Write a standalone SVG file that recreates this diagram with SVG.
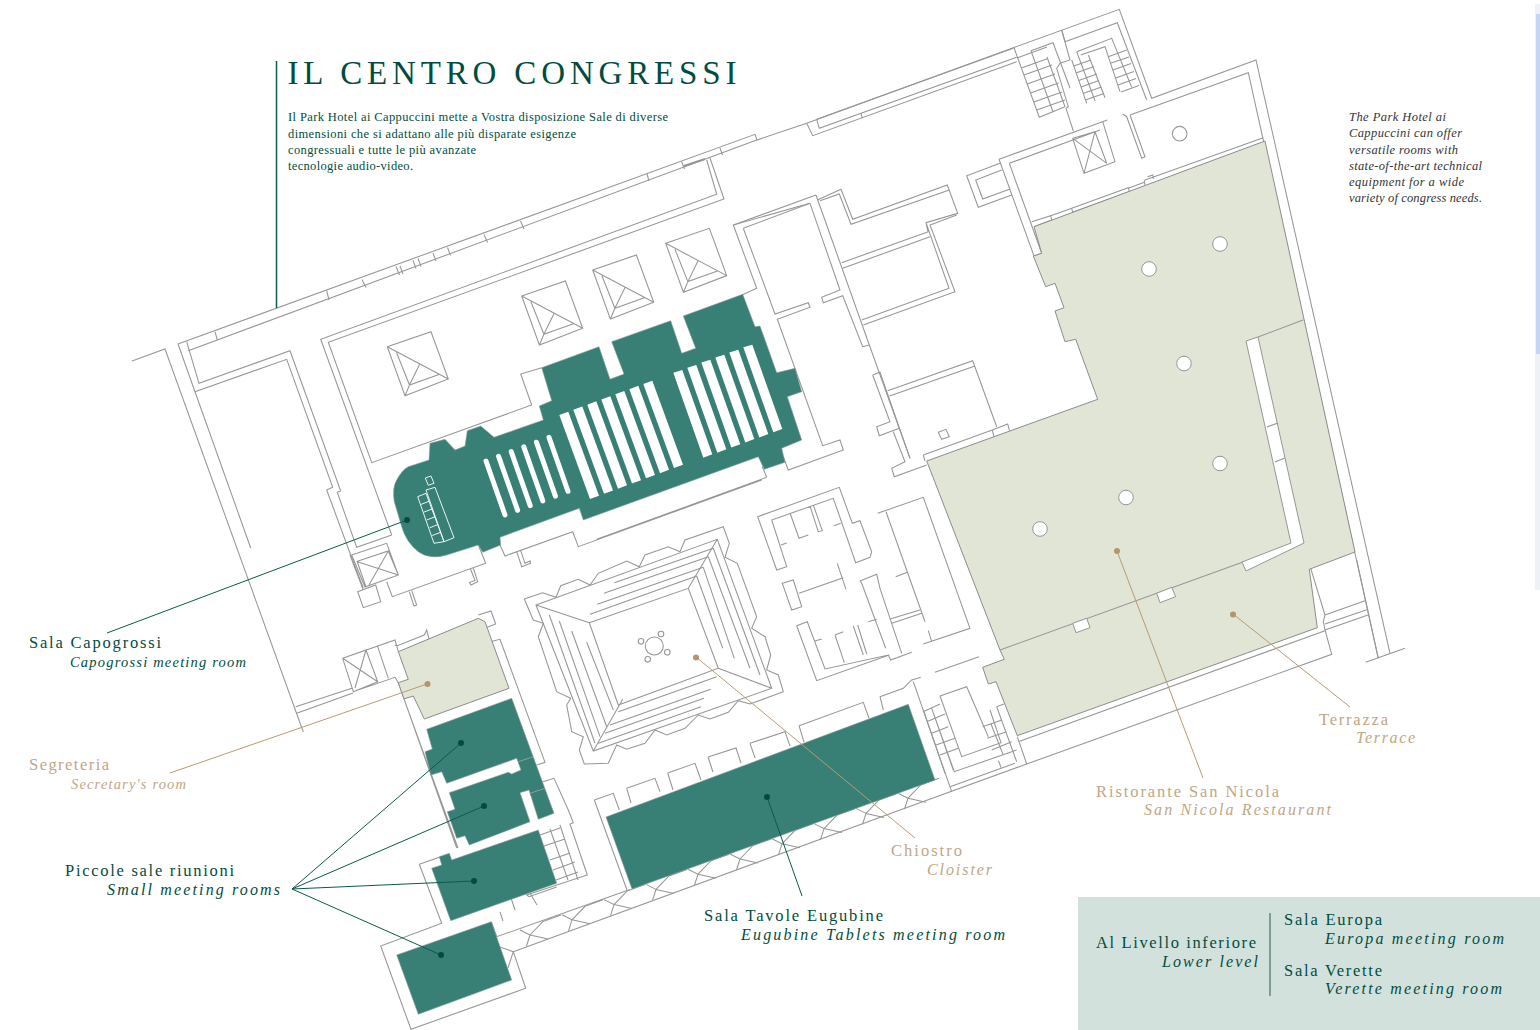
<svg xmlns="http://www.w3.org/2000/svg" xmlns:xlink="http://www.w3.org/1999/xlink" width="1540" height="1030" viewBox="0 0 1540 1030">
<style>
text{font-family:"Liberation Serif","Times New Roman",serif}
.w{fill:none;stroke:#969696;stroke-width:1.050}
.g{fill:#387f75;stroke:#8f9d99;stroke-width:.6}
.b{fill:#e1e5d6;stroke:#8c8c8c;stroke-width:1}
.h{fill:#fff;stroke:#969696;stroke-width:1}
.d{fill:#004d3f}.t{fill:#bfa684}
.dl{fill:none;stroke:#0b5a4b;stroke-width:1}.tl{fill:none;stroke:#b89b73;stroke-width:1}
.m{font-size:16.500px}.i{font-size:16px;font-style:italic}.s{font-size:14.500px;font-style:italic}
</style>
<defs>
<g id="sky" class="w"><path d="M387.3 346.7L431 331.7L448.3 379L405 395.7ZM387.3 346.7L448.3 379M396.5 352.5L409.5 385L439 374.5M405 395.7L409.5 385L420 363.5"/></g>
<path id="cob" class="w" d="M-10-5L0 0L-3.500 11M0 0L18 4M0 0L13-13.500L31-20"/>
<path id="bar" fill="#fff" d="M559.300 415L568.300 411.700L599 495.700L590 499Z"/>
<path id="bar2" fill="#fff" d="M673.300 372.700L682.300 370L712.300 454.300L703.300 457.700Z"/>
<path id="sl" fill="none" stroke="#fff" stroke-width="5" stroke-linecap="round" d="M486 461L505 515"/>
</defs>

<rect id="scroll-track" x="1535" y="4" width="5" height="586" fill="#eef1f6"/>
<rect id="scroll-thumb" x="1536" y="14" width="4" height="340" fill="#c6d5f3"/>
<rect id="lower-panel" x="1078" y="897" width="462" height="133" fill="#d3e1dd"/>

<g id="plan-walls" class="w">
<path d="M132 361L165 349L303.300 732"/>
<path d="M178 344L755 134.300L757 140L806.700 123.300L1013.300 47.700L1119.300 9.300L1151.700 98.300L1256 60L1390 653.300"/>
<path d="M188.300 350.700L756.700 140M178 344L195 391.700L250.700 548"/>
<path d="M186.700 341.700L199 383.300L290 350.700L340.700 491L337.300 492.300L356.700 547.300L391.700 535"/>
<path d="M195 391.700L286.700 359.300L332.700 487.300L326.700 490L350.700 555L363.300 588"/>
<path d="M215 331.700L217.300 340M326.700 290.700L329 300M362 279.500L366 287.500M396 266.500L399.500 275M400 266L403 274M413 260.500L416 268.500M418 258.500L421 266.500M433 253L436 261M447.500 247.500L450.500 255.500M484 234.500L487.500 242.500M520.500 221L524 229M646.700 173L649 181M681.700 161.700L684.500 169M720 148L722.500 155"/>
<path stroke-width="2" d="M684 166L705 159"/>
<path d="M706.700 160L716.700 194.300L320.700 339.300L391.700 535M710 158L724 199L328.300 342.300L371.700 462.700L531.700 405L520.700 374L541.700 367.700M742 295L756.700 288.300L733.300 225L810 203.300"/>
<path d="M351.700 555L386.700 543.300L398.300 575L365 587ZM356.700 561.500L388.300 551L398.300 575M356.700 561.500L398.300 575M388.300 551L369 585M350 555L363.300 590M357 561L366 587"/>
<path d="M357.700 591.700L375.700 585L380.700 601.700L363.300 607.700Z"/>
<path d="M386.700 581.700L392.300 596.700L485.700 563.300L478.300 545M409.300 591.700L414 606L416.700 605L411.700 590.700M473.300 568L477.700 581.700L471 585L469.500 582.500L475 580.500L470.500 569"/>
<path d="M806.700 123.300L812.700 135.700L1016.700 61.700M816.700 119.300L819.300 128.300L1016.700 57.300M816.700 119.300L1013.300 48.300M861 113.300L862.300 118.300"/>

<path d="M1014 47.700L1039.300 117.300L1065 106.700M1031 50.700L1053 42.700L1070 88M1031 50.700L1053 112M1047 57L1065 106.700M1061.700 30L1070 60L1060 63.300L1056.700 68.300L1068.300 106.700L1066 108.300L1073.300 131"/>
<path d="M1021.400 68L1048 58.600M1024 75L1052 65M1027.200 84L1055 74M1030.500 93L1058.500 83M1033.800 102L1062 92M1036.700 110L1065 100M1017 58L1047 47"/>
<path d="M1065 41.700L1117.300 22.700L1146.700 100M1076.700 51.700L1111.700 38.300L1131.700 87.300M1071.700 60L1086.700 103.300M1076.700 51.700L1095 100.700M1088.300 55L1105 97.700M1080.700 55L1105 46.700L1120 91.700M1062 31L1065 41.700"/>
<path d="M1073.800 66L1091 60M1076 73L1094 66.500M1078.700 80.500L1097 74M1081 87L1099 80.500M1083 93.500L1101.500 87M1085.300 100L1104 93.500M1108.300 56.700L1126.700 50M1110.500 63.300L1129 57M1113 70L1131 63.500M1115.700 78L1134 71.500M1118 85L1136 78.500M1121 92L1139 85.500"/>
<path d="M1130 115L1248.300 72.700L1378.300 658.300M1130 115L1145 156.700L1141.700 158.300L1126.700 116.700L1122.700 114"/>
<path d="M999 159.300L1107.300 120M1009.300 163.300L1100 130M1102.700 121.700L1115 161.700L1084 173.300L1072.700 138.300L1095 131.700L1106.700 163.300M1072.700 138.300L1106.700 163.300M1095 131.700L1084 173.300"/>
<path d="M999 159.300L1034 256L1041.700 253.300L1009.300 163.300M1000 163.300L966.700 175.700L978.300 207.300L1011.700 195M1001.700 170L975.700 180L982.700 199L1009.300 189.300"/>
<path d="M1031.700 221.700L1050.700 215.700L1051.700 220L1034 226.700M1071.700 208.300L1128.300 187.700L1129.300 191.700L1072.700 212.300ZM1145 180L1263.300 137.700M1145 180L1144.300 181.700L1145 185M1147.700 176.700L1152.700 175L1153.300 179M1050.700 215.700L1071.700 208.300M1129 188L1145 182"/>

<path d="M816 195L869.300 345L910 458.300M733.300 225L816 195M810 203.300L840 290L821.700 297.300L823.300 302.700L842.700 295.700L862.700 346.700L869.300 345"/>
<path d="M743.300 228.300L810 203.300M743.300 228.300L775 314L808.300 302.700L810 307.300L777.300 319.300L822.700 445.700L840 440L843.300 450L788.300 470L783.300 456.700"/>
<path d="M817.300 200L841 189.300L852.700 219.300L947.300 185L957.700 213.300L926 222.700L928 232M820 200.700L839.300 194L851 224.300L949.300 190M956.700 215L930 225L955 291.700L863.300 325M926 222.700L949 288.300L861.700 320M841.700 262.700L928.300 231.700M842.700 268.300L930 236.700"/>
<path d="M872.700 375L880 372.300L910 458.300M872.700 375L890 421.700L876.700 426.700L879.300 435.700L899.300 428.300M893.300 431.700L905 461.700L891.700 468.300L894.300 476.700L926.700 465"/>
<path d="M887.700 390.700L972.700 360.700L996.700 426.700M889.500 396L975 366M923.300 455L992.300 430L1007.700 424L1009.500 430.700M923.300 455L925 461M992.300 430L994 436.700M938.300 432.300L946 429.300L949.300 436.700L941.700 439.300Z"/>

<path d="M766.700 477.300L596.700 539.300M762.300 466.700L766.700 477.300M761.700 480L578.300 546.700L572.700 531.700L505 556L500 545M516.700 551.700L521.700 566.700L530.700 563.300L530 561L525 563.300L520.700 550.700"/>

<path d="M757.700 516.700L839.300 487.300L852.300 523.300L860 520.700L871.700 551.700L870 557.300L855.700 562.700L833.300 498.300L771.700 520L786.700 566.700L776.700 570ZM790 513L799 538.300L808.300 535M810 506L818.300 531.700L822.300 530.700L813.300 505M781 545L786.700 543M834 525.700L840.700 523.300"/>
<path d="M782.300 583.300L793.300 580L801.700 606.700L791.700 610ZM799 593.300L843.300 577.700M837.300 563.300L846 589.300"/>
<path d="M796.700 625.700L807.300 621.700L825 669L888.300 655L890.700 660L911.700 652.300M796.700 625.700L816.700 680.700L889.300 655M835 635L843.300 631.700M835 635L844.300 662.700M853.300 626L863.300 655M857.700 625L866.700 654M815 641L821.700 639M868.300 621.700L876.700 619.300"/>
<path d="M885.700 648.300L861.700 583.300L860 581L876.700 574.300L880 588.300L901.700 653.300"/>
<path d="M877.700 513.300L923.300 497.300L970 628.300L923.300 644M886 511.700L925 621.700M895.700 576.700L907.300 572.300M890 619L920 610M891.700 623.300L921.700 613.300M928.300 630.700L931.700 641.700"/>
<path d="M935 672.300L979 656.700M913.300 681.700L951.700 791.700M880 696.700L883.300 710"/>

<path d="M536 605L717.300 539.300L771.700 688.300L593.300 751ZM589.300 622.700L688.300 588.300L718.300 668.300L618.300 705ZM536 605L589.300 622.700M717.300 539.300L688.300 588.300M771.700 688.300L718.300 668.300M593.300 751L622.700 699.300"/>
<path d="M590 614.300L696.700 576M597.300 604.300L703.300 567.300M604 593.300L708.300 556.700M614.300 582.700L713.300 548.300M696.700 576L722.700 648.300M703.300 567.300L734.300 658.300M708.300 556.700L750 668.300M713.300 548.300L760 675"/>
<path d="M716.700 676.700L618.300 711.700M710.700 689.300L610 725M704 698.300L605 733.300M701 706.700L598.300 743.300M586.700 642.300L613.300 710M571.700 631L606.700 726.700M559.300 621L600 736.700M549.300 615L595 743.300"/>
<path d="M524.300 599L542.700 592.700L556 597.300L560.700 585.700L578.300 579.300L590 585L598.300 573.300L626.700 561L639.300 566.700L645 555L668.300 546.700L680 551.700L685 540L723.300 526.700L729.300 543.300L725 557.300L737.300 563.300L756.700 616.700L751.700 628.300L765 636.700L770.700 655L766.700 670L778.300 675L783.300 691.700L750 704L738.300 700.700L728.300 712.300L710 719L698.300 715L685 728.300L666.700 735L655 730L645 743.300L626.700 749.300L616.700 745L608.300 763.300L584.300 764L579.300 750L583.300 736.700L571.700 731.700L566.700 705L570.700 698.300L556.700 691.700L538.300 636.700L543.300 623.300L533.300 620Z"/>
<circle cx="654.300" cy="646" r="9"/><circle cx="641" cy="641.300" r="2.800"/><circle cx="661" cy="634" r="2.800"/><circle cx="667.300" cy="652.300" r="2.800"/><circle cx="647.700" cy="659.300" r="2.800"/>

<path d="M490 641.700L500 639.300L545 762.300L536.700 765M543 781.700L554 778.300L568.300 810L573.300 822.700L570 824L587.300 875L526.700 895L529 896.700L556.700 887M510 758L518.500 756.500M530 795L545 790"/>
<path d="M478.300 615L491 611L495.700 624L486 627.700M395 645L396.700 646L424.300 635L426.700 630L429.300 640M342.700 658.300L395 640L398.300 651.700M342.700 658.300L353.300 691.700L395 677.300L398.300 682.700M342.700 658.300L366 650L377.700 681.700L353.300 691.700M342.700 658.300L377.700 681.700M366 650L355 688M377.700 646.700L388.300 678.300M295.700 706.700L351.700 688.300M296.700 713.300L353 693M398.300 682.700L456.700 848M404 699L458 848"/>
<path d="M419.300 864.300L441 856.700M419.300 864.300L441.700 923.300L380.700 946L411 1029.300L525.700 988.300L513.300 951.700L500 947M513.300 951.700L508 968M491.300 921.700L496.700 936.700L630 889.500M513.300 951.700L900 810L1026.700 764L1176.700 710L1331.700 654.300L1325 630L1323.300 621.700L1325 615L1310.700 568.300M1017.300 736.700L1026.700 764M1018.300 741.700L1325 630.700M1325 615L1365 600.700M1325 624L1368.300 609.300M1325 630L1368 615M1356.700 560L1378.300 658.300M1365.700 662.300L1405 648.300"/>
<path d="M500 912L503 921M510 895L515 910M530 893L537 905M540 835L560 828M544 846L565 839M550 860L570 853M553 870L575 862M556 880L578 872M560 825L578 880M550 829L568 880"/>
<path d="M594.300 800L613.300 793.300L619.300 810M594.300 800L627 890M626.700 788.300L655 778.300L660 791.700M626.700 788.300L631 803M667.700 773L695 763.300L701 780M667.700 773L673 790M708 757L736 748L741 763M708 757L713 772M750 743.300L785 731.700L790 746M750 743.300L755 758M799 725.700L863.300 702.300L869 718.300M799 725.700L804 742M880 696.700L903.300 688.300L911.700 680L920.700 677.300"/>
<path d="M940 696L966.700 686.700L988.300 736.700M940 696L961.700 756.700L1001 742.700L990 710M933 712L954.300 771.700L1016.700 750M923.300 711.700L940 704M926.700 721.700L945 714M931.700 733.300L948.300 726.700M936 745L955 738.300M940 755L958.300 748.300M931.700 708.300L953.300 770M923.300 710L945 773.300M982.700 726.700L1001.700 720M987.300 738.300L1006.700 731.700M991.700 750L1011.700 741.700M990.700 723.300L1003.300 755M996.700 706.700L1016.700 761.700M996.700 706.700L1004 704M950 786.700L1015 763.300M1001 767.500L998.500 760.700"/>
<use href="#cob" x="530" y="935"/><use href="#cob" x="572" y="919.800"/><use href="#cob" x="614" y="904.600"/><use href="#cob" x="656" y="889.400"/><use href="#cob" x="698" y="874.200"/><use href="#cob" x="740" y="859"/><use href="#cob" x="782" y="843.800"/><use href="#cob" x="824" y="828.600"/><use href="#cob" x="866" y="813.400"/><use href="#cob" x="908" y="798.200"/>
<use href="#sky"/><use href="#sky" x="134.400" y="-50.700"/><use href="#sky" x="205.400" y="-76.700"/><use href="#sky" x="278.400" y="-103.400"/>
<circle cx="1179.700" cy="133.700" r="7.300"/>
</g>

<g id="terrace-restaurant">
<path class="b" d="M1265 141L1355 552L1309.300 569.300L1317.300 627.700L1017.300 735.700L996 681.700L988.300 684L982.700 667.300L1004.300 659.300L1000 650L926.700 461L1097.700 399.300L1075.700 339.300L1065 341.700L1055 311L1064 307.700L1055 283.300L1045.700 286.700L1033.300 256L1041.700 253.300L1034 226.700Z"/>
<path class="w" d="M1000 650L1243 562M1258 337L1303 320"/>
<path class="h" d="M1246 341L1258 337L1304 543L1246 571L1242 562L1291 543Z"/>
<path class="h" d="M1072.700 623.300L1086.700 618.300L1090 627.700L1076 632.700ZM1156.700 593.300L1171.700 587.300L1175.700 596.700L1160 602.700Z"/>
<path class="w" d="M1267 427L1278 423M1275 462L1285 458"/>
<g class="h"><circle cx="1149" cy="269" r="7.300"/><circle cx="1220" cy="244" r="7.300"/><circle cx="1184" cy="363.500" r="7.300"/><circle cx="1220" cy="463.500" r="7.300"/><circle cx="1126" cy="497.500" r="7.300"/><circle cx="1040" cy="529" r="7.300"/></g>
</g>

<g id="segreteria">
<path class="b" d="M398.300 651.700L478.300 618.300L485 621.700L509 688.300L424.300 719L413.300 696L404 699L398.300 682.700L408.300 679.300Z"/>
</g>

<g id="sala-capogrossi">
<path class="g" d="M541.700 367.700L599 346.700L610 379.300L624 374L611.700 341.700L670.700 320.700L681.700 353.300L695.700 348.300L683.300 316L742.700 294.300L755 326.700L760 326L776.700 372.700L795 368.300L801.700 391.700L787.300 396.700L801.700 440L781.700 448.300L785 462.300L764.300 469.300L758.300 456.700L583.300 520L579.300 508.300L500 537.300L500.700 545L482.700 552.300L478.300 545L446.700 555Q430 560 418.300 551.700Q406 542 401.700 526.700L394.300 501.700Q392 488 396.700 480Q402 470 408.300 466.700L429 460L430 443.300L445 439.300L455 450L465 446L467.300 430.700L480.700 426L494 437.300L543.300 420L539.300 406L551.700 400.700Z"/>
<use href="#sl"/><use href="#sl" x="12.600" y="-4.700"/><use href="#sl" x="25.200" y="-9.400"/><use href="#sl" x="37.800" y="-14.100"/><use href="#sl" x="50.400" y="-18.800"/><use href="#sl" x="63" y="-23.700"/>
<use href="#bar"/><use href="#bar" x="14" y="-5.170"/><use href="#bar" x="28" y="-10.340"/><use href="#bar" x="42" y="-15.500"/><use href="#bar" x="56" y="-20.670"/><use href="#bar" x="70" y="-25.840"/><use href="#bar" x="84" y="-31"/>
<use href="#bar2"/><use href="#bar2" x="14" y="-5.070"/><use href="#bar2" x="28" y="-10.130"/><use href="#bar2" x="42" y="-15.200"/><use href="#bar2" x="56" y="-20.270"/><use href="#bar2" x="70" y="-25.330"/>
<path fill="none" stroke="#fff" stroke-width=".9" d="M425.300 478L431 476L434 483.300L428.300 485.300ZM426 490L435 487.300L454 537.700L444 541.700ZM417.700 496.700L426 493.300L444 541.700L434 543.300ZM420.700 504.500L429 501.300M423.700 512.200L432 509M426.700 520L435 516.800M429.700 527.800L438 524.500M432.200 535.500L441 532.200"/>
</g>

<g id="piccole-sale">
<path class="g" d="M426.700 729.300L511.700 698.300L554 813.300L538.300 819.300L529 790L520 792.700L530 821.700L469.300 845L465 835.700L456.700 838.300L447.300 811.700L455 809.300L449.300 792.700L508.300 772.300L511.700 774L521 770L516.700 758.300L446.700 783.300L441.700 771.700L431 775L425 751.700L432.300 749Z"/>
<path class="g" d="M538.300 830L556.700 883.300L450.700 920.700L431.700 868.300L441.700 865L439.300 856.700L449.300 853.300L451.700 860Z"/>
<path class="g" d="M396.700 955L491.300 921.700L511.700 980L418.300 1014.300Z"/>
<path fill="none" stroke="#8f9d99" stroke-width="1" d="M518.300 761.700L533.300 756.700M530 793.300L545 788.300"/>
</g>

<g id="sala-tavole-eugubine">
<path class="g" d="M606 817L908.300 704.300L935 780L632 889Z"/>
</g>

<g id="connectors">
<path class="dl" d="M107 633L407 520M292 889L461 743M292 889L484 806M292 889L474 881M292 889L441 955M802 896L767 797"/>
<path class="tl" d="M170 773L427 684M915 838L696 657M1203 778L1117 551M1350 707L1233 614"/>
<g class="d"><circle cx="407" cy="520" r="3"/><circle cx="461" cy="743" r="3"/><circle cx="484" cy="806" r="3"/><circle cx="474" cy="881" r="3"/><circle cx="441" cy="955" r="3"/><circle cx="767" cy="797" r="3"/></g>
<g fill="#b3956f"><circle cx="427.500" cy="684" r="3"/><circle cx="696" cy="657.500" r="3"/><circle cx="1117" cy="551" r="3"/><circle cx="1233" cy="614.500" r="3"/></g>
</g>

<g id="heading">
<path d="M276.500 61V308" fill="none" stroke="#0b5a4b" stroke-width="1.500"/>
<text class="d" x="287.500" y="84" font-size="33" textLength="449">IL CENTRO CONGRESSI</text>
<g class="d" font-size="12.500">
<text x="288" y="121" textLength="380">Il Park Hotel ai Cappuccini mette a Vostra disposizione Sale di diverse</text>
<text x="288" y="137.500" textLength="288">dimensioni che si adattano alle più disparate esigenze</text>
<text x="288" y="154" textLength="188">congressuali e tutte le più avanzate</text>
<text x="288" y="170" textLength="125">tecnologie audio-video.</text>
</g>
</g>
<g id="english-note" fill="#333" font-size="12.500" font-style="italic">
<text x="1349" y="121" textLength="97">The Park Hotel ai</text>
<text x="1349" y="137" textLength="113">Cappuccini can offer</text>
<text x="1349" y="153.500" textLength="109">versatile rooms with</text>
<text x="1349" y="170" textLength="133">state-of-the-art technical</text>
<text x="1349" y="186" textLength="115">equipment for a wide</text>
<text x="1349" y="202" textLength="133">variety of congress needs.</text>
</g>

<g id="label-capogrossi" class="d"><text class="m" x="29" y="648" textLength="132">Sala Capogrossi</text><text class="s" x="70" y="667" textLength="176">Capogrossi meeting room</text></g>
<g id="label-segreteria" class="t"><text class="m" x="29" y="770" textLength="80">Segreteria</text><text class="s" x="71" y="789" textLength="115">Secretary's room</text></g>
<g id="label-piccole" class="d"><text class="m" x="65" y="876" textLength="169">Piccole sale riunioni</text><text class="i" x="107" y="895" textLength="173">Small meeting rooms</text></g>
<g id="label-tavole" class="d"><text class="m" x="704" y="921" textLength="179">Sala Tavole Eugubine</text><text class="i" x="741" y="940" textLength="264">Eugubine Tablets meeting room</text></g>
<g id="label-chiostro" class="t"><text class="m" x="891" y="856" textLength="71">Chiostro</text><text class="i" x="927" y="875" textLength="65">Cloister</text></g>
<g id="label-ristorante" class="t"><text class="m" x="1096" y="796.500" textLength="183">Ristorante San Nicola</text><text class="i" x="1144" y="815" textLength="187">San Nicola Restaurant</text></g>
<g id="label-terrazza" class="t"><text class="m" x="1319" y="725" textLength="69">Terrazza</text><text class="i" x="1356" y="743" textLength="59">Terrace</text></g>

<g id="lower-level" class="d">
<text class="m" x="1096" y="948" textLength="160">Al Livello inferiore</text><text class="i" x="1162" y="966.500" textLength="96">Lower level</text>
<path d="M1270 913V996" fill="none" stroke="#5b8a80" stroke-width="1.500"/>
<text class="m" x="1284" y="925" textLength="98">Sala Europa</text><text class="i" x="1325" y="944" textLength="179">Europa meeting room</text>
<text class="m" x="1284" y="975.500" textLength="98">Sala Verette</text><text class="i" x="1325" y="994" textLength="177">Verette meeting room</text>
</g>
</svg>
